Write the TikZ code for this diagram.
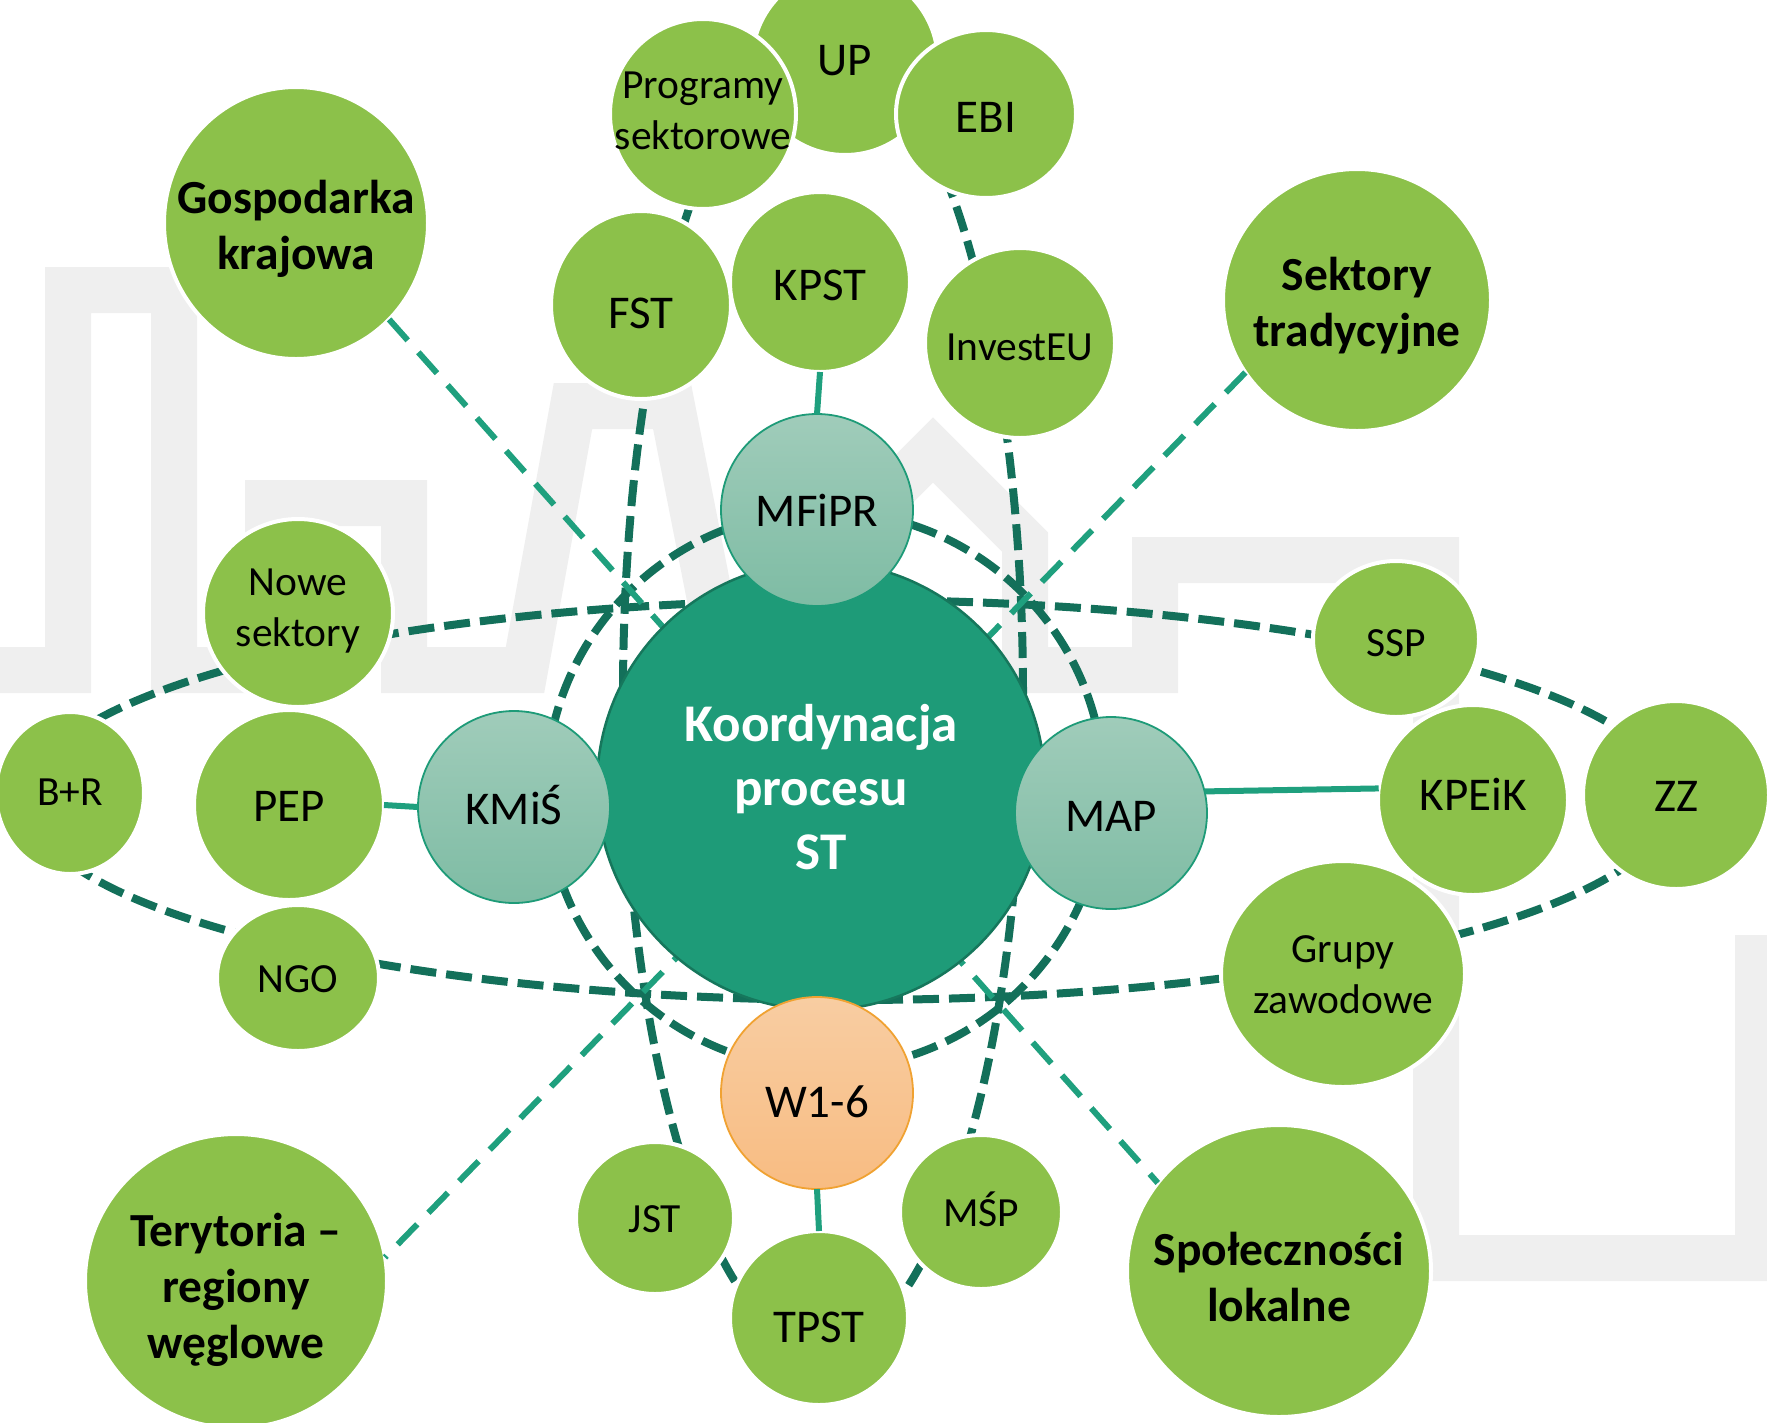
\documentclass[tikz,border=0pt]{standalone}
\usepackage{fontspec}
\setmainfont{Carlito}
\usetikzlibrary{shapes.geometric}
\definecolor{leafgreen}{HTML}{8CC14A}
\definecolor{corefill}{HTML}{1E9B78}
\definecolor{coreedge}{HTML}{16775C}
\definecolor{darkdash}{HTML}{13705A}
\definecolor{lightdash}{HTML}{1FA07E}
\definecolor{mtop}{HTML}{A0CCBA}
\definecolor{mbot}{HTML}{7EBCA4}
\definecolor{otop}{HTML}{F8CDA2}
\definecolor{obot}{HTML}{F8BC82}
\definecolor{oedge}{HTML}{F0A232}
\definecolor{bggray}{HTML}{EFEFEF}
\newcommand\szA{\fontsize{47}{57}\selectfont}
\newcommand\szB{\fontsize{41.5}{51}\selectfont}
\newcommand\szC{\bfseries\fontsize{47.5}{56}\selectfont}
\newcommand\szD{\bfseries\fontsize{53}{64}\selectfont}
\newcommand\bubtext[2][-7pt]{\raisebox{#1}[\height][\depth]{\makebox[0pt]{\begin{tabular}{@{}c@{}}#2\end{tabular}}}}
\begin{document}
\begin{tikzpicture}[x=1pt,y=-1pt,
  bub/.style={ellipse,inner sep=0pt,outer sep=0pt,align=center,text=black},
  leafbub/.style={bub,fill=leafgreen,draw=white,line width=4pt},
  hubbub/.style={bub,top color=mtop,bottom color=mbot,draw=corefill,line width=1.8pt,
    minimum width=192pt,minimum height=192pt,font=\szA},
  darkline/.style={draw=darkdash,line width=8pt,dash pattern=on 26pt off 10pt},
  lightline/.style={draw=lightdash,line width=6pt,dash pattern=on 28pt off 16pt},
  solidline/.style={draw=lightdash,line width=6pt}]
\useasboundingbox (0,0) rectangle (1767,1422);
\clip (0,0) rectangle (1767,1422);
% background decoration
\draw[bggray,line width=46pt] (-30,670) -- (68,670) -- (68,290) -- (174,290) -- (174,670)
  -- (268,670) -- (268,503) -- (404,503) -- (404,670) -- (525,670) -- (573,406) -- (672,406)
  -- (724,670) -- (850,670) -- (850,533) -- (933,450) -- (1025,542) -- (1025,670)
  -- (1155,670) -- (1155,560) -- (1436,560) -- (1436,1258) -- (1758,1258) -- (1758,935);

% orbits
\draw[darkline] (850,800) ellipse [x radius=822pt, y radius=200pt];
\draw[darkline] (823,694) ellipse [x radius=200pt, y radius=654pt];
\draw[darkline] (825,790) circle [radius=279pt];

% nodes (outer ring)
\node[leafbub,minimum width=186pt,minimum height=186pt,font=\szA] (up) at (845,62) {\bubtext[-2pt]{UP}};
\node[leafbub,minimum width=186pt,minimum height=190pt,font=\szB] (prog) at (703,114) {\bubtext[0pt]{Programy\\sektorowe}};
\node[leafbub,minimum width=180pt,minimum height=168pt,font=\szA] (ebi) at (986,114) {\bubtext{EBI}};
\node[leafbub,minimum width=180pt,minimum height=188pt,font=\szA] (fst) at (641,305) {\bubtext[-12pt]{FST}};
\node[leafbub,minimum width=180pt,minimum height=180pt,font=\szA] (kpst) at (820,282) {\bubtext{KPST}};
\node[leafbub,minimum width=190pt,minimum height=190pt,font=\szB] (invest) at (1020,343) {\bubtext{InvestEU}};
\node[leafbub,minimum width=264pt,minimum height=272pt,font=\szC] (gosp) at (296,223) {\bubtext{Gospodarka\\krajowa}};
\node[leafbub,minimum width=268pt,minimum height=262pt,font=\szC] (sekt) at (1357,300) {\bubtext{Sektory\\tradycyjne}};
\node[leafbub,minimum width=190pt,minimum height=188pt,font=\szB] (nowe) at (298,613) {\bubtext[2pt]{Nowe\\sektory}};
\node[leafbub,minimum width=148pt,minimum height=162pt,font=\szB] (br) at (70,793) {\bubtext[-2pt]{B+R}};
\node[leafbub,minimum width=190pt,minimum height=190pt,font=\szA] (pep) at (289,805) {\bubtext[-5pt]{PEP}};
\node[leafbub,minimum width=162pt,minimum height=146pt,font=\szB] (ngo) at (298,978) {\bubtext[-4pt]{NGO}};
\node[leafbub,minimum width=166pt,minimum height=156pt,font=\szB] (ssp) at (1396,639) {\bubtext{SSP}};
\node[leafbub,minimum width=190pt,minimum height=190pt,font=\szA] (kpeik) at (1473,800) {\bubtext[1pt]{KPEiK}};
\node[leafbub,minimum width=186pt,minimum height=188pt,font=\szA] (zz) at (1676,795) {\bubtext[-5pt]{ZZ}};
\node[leafbub,minimum width=244pt,minimum height=226pt,font=\szB] (grupy) at (1343,974) {\bubtext[-4pt]{Grupy\\zawodowe}};
\node[leafbub,minimum width=302pt,minimum height=294pt,font=\szC] (teryt) at (236,1281) {\bubtext[-10pt]{Terytoria --\\regiony\\węglowe}};
\node[leafbub,minimum width=158pt,minimum height=152pt,font=\szB] (jst) at (655,1218) {\bubtext[-4pt]{JST}};
\node[leafbub,minimum width=162pt,minimum height=154pt,font=\szB] (msp) at (981,1212) {\bubtext[-4pt]{MŚP}};
\node[leafbub,minimum width=178pt,minimum height=174pt,font=\szA] (tpst) at (819,1318) {\bubtext[-13pt]{TPST}};
\node[leafbub,minimum width=304pt,minimum height=292pt,font=\szC] (spol) at (1279,1271) {\bubtext[-11pt]{Społeczności\\lokalne}};

% diagonal connectors (behind core)
\draw[lightline] (gosp.-46) -- (spol.144);
\draw[lightline] (sekt.213) -- (teryt.9);

% core
\node[bub,fill=corefill,draw=coreedge,line width=2.5pt,minimum width=448pt,minimum height=448pt,
  text=white,font=\szD] (core) at (821,786) {\bubtext{Koordynacja\\procesu\\ST}};

% hubs
\node[hubbub] (mfipr) at (817,510) {\bubtext[-5pt]{MFiPR}};
\node[hubbub] (kmis) at (514,807) {\bubtext[-6pt]{KMiŚ}};
\node[hubbub] (map) at (1111,813) {\bubtext{MAP}};
\node[bub,top color=otop,bottom color=obot,draw=oedge,line width=1.8pt,
  minimum width=192pt,minimum height=192pt,font=\szA] (w16) at (817,1093) {\bubtext[-13pt]{W1-6}};

% solid connectors
\draw[solidline] (kpst.south) -- (mfipr.north);
\draw[solidline] (w16.south) -- (tpst.north);
\draw[solidline] (pep.east) -- (kmis.west);
\draw[solidline] (map.13) -- (kpeik.173);
\end{tikzpicture}
\end{document}
